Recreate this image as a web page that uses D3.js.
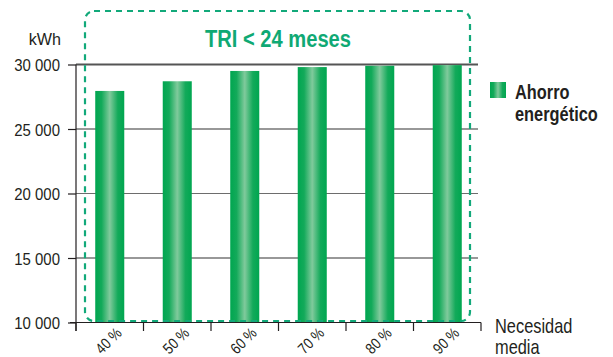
<!DOCTYPE html>
<html>
<head>
<meta charset="utf-8">
<script src="https://cdn.jsdelivr.net/npm/d3@7"></script>
<style>
  html, body { margin: 0; padding: 0; background: #fff; }
  svg { display: block; }
  text { font-family: "Liberation Sans", Arial, "Helvetica Neue", sans-serif; fill: #231f20; }
</style>
</head>
<body>
<svg id="chart" width="613" height="357"></svg>
<script>
// Energy savings (kWh) per average heating-need level
const categories = ["40 %", "50 %", "60 %", "70 %", "80 %", "90 %"];
const savings = [27950, 28700, 29500, 29800, 29900, 29950];
const yTicks = [10000, 15000, 20000, 25000, 30000];
const unitLabel = "kWh";
const titleText = "TRI < 24 meses";
const legendLines = ["Ahorro", "energético"];
const xAxisTitle = ["Necesidad", "media"];

const svg = d3.select("#chart");
const x0 = 76, x1 = 481, yTop = 64.5, yBottom = 322.5;

const x = d3.scaleBand().domain(categories).range([x0, x1]).paddingInner(0.57).paddingOuter(0.285);
const y = d3.scaleLinear().domain([10000, 30000]).range([yBottom, yTop]);
const fmt = v => d3.format(",")(v).replace(/,/g, " ");

// Condensed look: horizontally squeezed text placed at (px, py)
function narrow(sel, px, py, sx, extra = "") {
  return sel.attr("x", 0).attr("y", 0)
    .attr("transform", `translate(${px},${py}) ${extra} scale(${sx},1)`);
}

// Horizontal gradient for the cylinder-like bars
const defs = svg.append("defs");
const grad = defs.append("linearGradient").attr("id", "barGrad")
  .attr("x1", "0%").attr("x2", "100%").attr("y1", "0%").attr("y2", "0%");
grad.append("stop").attr("offset", "0%").attr("stop-color", "#00a650");
grad.append("stop").attr("offset", "22%").attr("stop-color", "#13aa5a");
grad.append("stop").attr("offset", "50%").attr("stop-color", "#80ca9c");
grad.append("stop").attr("offset", "78%").attr("stop-color", "#13aa5a");
grad.append("stop").attr("offset", "100%").attr("stop-color", "#00a650");

// Gridlines
svg.append("g").selectAll("line").data(yTicks.slice(1)).join("line")
  .attr("x1", x0).attr("x2", 478)
  .attr("y1", d => y(d)).attr("y2", d => y(d))
  .attr("stroke", d => d === 30000 ? "#555" : (d === 20000 ? "#6d6d6d" : "#333"))
  .attr("stroke-width", d => d === 30000 ? 1.8 : 1.2);

// Y axis
const yAxis = svg.append("g").attr("transform", `translate(${x0},0)`)
  .call(d3.axisLeft(y).tickValues(yTicks).tickFormat(fmt).tickSize(8).tickPadding(8));
yAxis.select(".domain").remove();
yAxis.selectAll(".tick line").attr("stroke", "#231f20").attr("stroke-width", 1.2);
yAxis.selectAll(".tick text").style("font-size", "17px").attr("dy", "0.36em")
  .each(function () { narrow(d3.select(this), -16, 0, 0.88); });
svg.append("line").attr("x1", x0).attr("x2", x0).attr("y1", yTop).attr("y2", 331)
  .attr("stroke", "#231f20").attr("stroke-width", 1.2);

// Bars
svg.append("g").selectAll("rect").data(savings).join("rect")
  .attr("x", (d, i) => x(categories[i]))
  .attr("width", x.bandwidth())
  .attr("y", d => y(d))
  .attr("height", d => y(10000) - y(d))
  .attr("fill", "url(#barGrad)");

// X axis with category boundary ticks
svg.append("line").attr("x1", 70).attr("x2", x1).attr("y1", yBottom).attr("y2", yBottom)
  .attr("stroke", "#231f20").attr("stroke-width", 1.2);
const step = x.step();
svg.append("g").selectAll("line").data(d3.range(categories.length + 1)).join("line")
  .attr("x1", i => x0 + i * step).attr("x2", i => x0 + i * step)
  .attr("y1", yBottom).attr("y2", 331)
  .attr("stroke", "#231f20").attr("stroke-width", 1.2);

svg.append("g").selectAll("text").data(categories).join("text")
  .attr("text-anchor", "end")
  .style("font-size", "15.5px")
  .text(d => d)
  .each(function (d) {
    narrow(d3.select(this), x(d) + x.bandwidth() / 2 + 13, 334, 0.84, "rotate(-45)");
  });

// Unit label
narrow(svg.append("text").attr("text-anchor", "end").style("font-size", "17px").text(unitLabel), 61, 45, 0.95);

// Dashed payback-period box
svg.append("rect").attr("x", 85).attr("y", 11).attr("width", 385).attr("height", 310)
  .attr("rx", 9).attr("ry", 9)
  .attr("fill", "none").attr("stroke", "#12a97a").attr("stroke-width", 2.2)
  .attr("stroke-dasharray", "6 5");

narrow(svg.append("text").attr("text-anchor", "middle")
  .style("font-size", "23px").style("font-weight", "bold").style("fill", "#0fa974")
  .text(titleText), 278, 47, 0.875);

// Legend
svg.append("rect").attr("x", 490).attr("y", 82).attr("width", 16).attr("height", 16)
  .attr("fill", "url(#barGrad)");
legendLines.forEach((t, i) => {
  narrow(svg.append("text").style("font-size", "19.5px").style("font-weight", "bold").text(t),
    515, 99 + i * 22, 0.84);
});

// Axis title
xAxisTitle.forEach((t, i) => {
  narrow(svg.append("text").style("font-size", "20px").text(t), 495, 333 + i * 21, 0.82);
});
</script>
</body>
</html>
